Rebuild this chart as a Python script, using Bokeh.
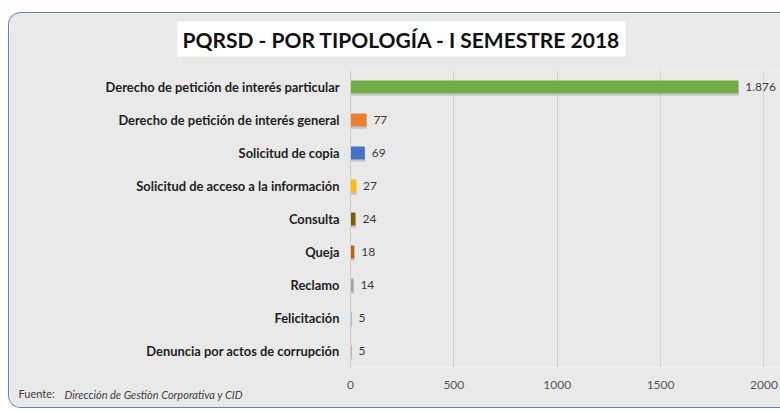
from bokeh.plotting import figure
from bokeh.models import (ColumnDataSource, FactorRange, Range1d, FixedTicker,
                          LabelSet, Label)
from bokeh.core.properties import value
from bokeh.transform import dodge
from bokeh.embed import file_html
from bokeh.resources import INLINE

# ---- data -------------------------------------------------------------
categories = [
    "Derecho de petición de interés particular",
    "Derecho de petición de interés general",
    "Solicitud de copia",
    "Solicitud de acceso a la información",
    "Consulta",
    "Queja",
    "Reclamo",
    "Felicitación",
    "Denuncia por actos de corrupción",
]
values = [1876, 77, 69, 27, 24, 18, 14, 5, 5]
bar_colors = ["#70AD47", "#ED7D31", "#4472C4", "#FFC000", "#7F6000",
              "#C55A11", "#A5A5A5", "#9DB5DE", "#D9A97E"]
x_ticks = [0, 500, 1000, 1500, 2000]
title_text = "PQRSD - POR TIPOLOGÍA - I SEMESTRE 2018"
source_prefix = "Fuente:"
source_text = "Dirección de Gestiòn Corporativa y CID"

value_labels = [f"{v:,}".replace(",", ".") for v in values]

FONT = "Lato"
BG = "#E9E9E9"

src = ColumnDataSource(dict(cat=categories, val=values, col=bar_colors,
                            lab=value_labels))

p = figure(width=772, height=396,
           y_range=FactorRange(*reversed(categories)),
           x_range=Range1d(0, 2085),
           output_backend="svg", toolbar_location=None,
           min_border_left=341, min_border_right=0,
           min_border_top=57, min_border_bottom=42)

p.styles = {"border": "1.5px solid #5B7EC6", "border-right": "none",
            "border-radius": "13px 0px 0px 13px",
            "overflow": "hidden", "margin": "12px 0px 0px 8px"}

p.background_fill_color = BG
p.border_fill_color = BG
p.outline_line_color = None

# shadow + bars
p.hbar(y=dodge("cat", -0.05, range=p.y_range), right="val", height=0.4,
       left=0, source=src, color="black", alpha=0.12)
p.hbar(y="cat", right="val", height=0.4, left=0, source=src,
       fill_color="col", line_color=None)

labels = LabelSet(x="val", y="cat", text="lab", source=src, x_offset=7,
                  text_baseline="middle", text_font=value(FONT),
                  text_font_size="12px", text_color="#3A3A3A")
p.add_layout(labels)

# axes
p.xaxis.ticker = FixedTicker(ticks=x_ticks)
p.xaxis.axis_line_color = None
p.xaxis.major_tick_line_color = None
p.xaxis.minor_tick_line_color = None
p.xaxis.major_label_standoff = 7
p.xaxis.major_label_text_font = FONT
p.xaxis.major_label_text_font_size = "12px"
p.xaxis.major_label_text_color = "#555555"

p.yaxis.axis_line_color = "#CFCFCF"
p.yaxis.major_tick_line_color = None
p.yaxis.minor_tick_line_color = None
p.yaxis.major_label_standoff = 5
p.yaxis.major_label_text_font = FONT
p.yaxis.major_label_text_font_style = "bold"
p.yaxis.major_label_text_font_size = "12.9px"
p.yaxis.major_label_text_color = "#1E1E1E"

p.ygrid.grid_line_color = None
p.xgrid.ticker = FixedTicker(ticks=x_ticks[1:])
p.xgrid.grid_line_color = "#D2D2D2"

# title with white box
title = Label(x=51, y=31.5, x_units="screen", y_units="screen",
              text=title_text, text_align="center", text_baseline="middle",
              text_font=FONT, text_font_style="bold", text_font_size="21px",
              text_color="#111111", background_fill_color="white",
              padding=5)
p.add_layout(title, "above")

# source note
f1 = Label(x=-48, y=-26, x_units="screen", y_units="screen",
           text=source_prefix, text_baseline="middle", text_font=FONT,
           text_font_size="11px", text_color="#404040")
f2 = Label(x=-286, y=10, x_units="screen", y_units="screen",
           text=source_text, text_baseline="middle", text_font=FONT,
           text_font_style="italic", text_font_size="11px",
           text_color="#404040")
p.add_layout(f1, "left")
p.add_layout(f2, "below")

open("out.html", "w").write(file_html(p, INLINE))
